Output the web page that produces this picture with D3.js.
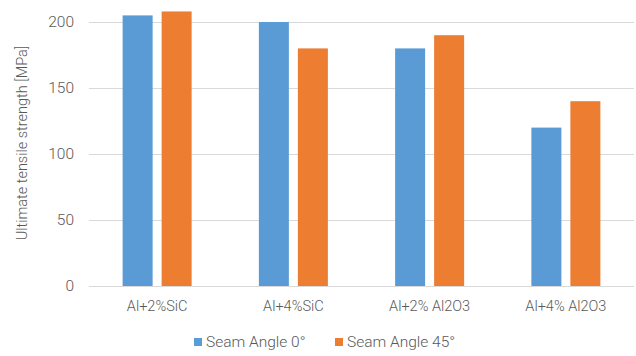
<!DOCTYPE html>
<html>
<head>
<meta charset="utf-8">
<script src="https://cdn.jsdelivr.net/npm/d3@7"></script>
<style>
  body { margin: 0; background: #fff; }
  text { font-family: Roboto, "Liberation Sans", sans-serif; font-weight: 300; fill: #595959; }
</style>
</head>
<body>
<div id="chart"></div>
<script>
// data
var categories = ["Al+2%SiC", "Al+4%SiC", "Al+2% Al2O3", "Al+4% Al2O3"];
var seriesNames = ["Seam Angle 0°", "Seam Angle 45°"];
var angle0 = [205, 200, 180, 120];
var angle45 = [208, 180, 190, 140];
var yTicks = [0, 50, 100, 150, 200];

var colors = ["#5B9BD5", "#ED7D31"];

var W = 636, H = 356;
var margin = {top: 22, right: 2, bottom: 70, left: 89};
var width = W - margin.left - margin.right,
    height = H - margin.top - margin.bottom;

var svg = d3.select("#chart").append("svg")
    .attr("width", W).attr("height", H);

var g = svg.append("g")
    .attr("transform", "translate(" + margin.left + "," + margin.top + ")");

var rows = categories.map(function(c, i) {
    return {cat: c, values: [angle0[i], angle45[i]]};
});

var x = d3.scaleBand().domain(categories).range([0, width]).padding(0);
var x1 = d3.scaleBand().domain([0, 1]).range([0, x.bandwidth()])
    .paddingInner(0.2308).paddingOuter(0.862);
var y = d3.scaleLinear().domain([0, 200]).range([height, 0]);

// gridlines
g.append("g").selectAll("line")
    .data(yTicks)
    .enter().append("line")
    .attr("x1", 0).attr("x2", width)
    .attr("y1", function(d) { return y(d) + 0.5; })
    .attr("y2", function(d) { return y(d) + 0.5; })
    .attr("stroke", "#d9d9d9").attr("stroke-width", 1);

// y axis labels
var yAxis = g.append("g")
    .call(d3.axisLeft(y).tickValues(yTicks).tickSize(0).tickPadding(15));
yAxis.select(".domain").remove();
yAxis.selectAll("text").style("font-size", "15.5px").attr("fill", "#595959");

// bars
g.append("g").selectAll("g")
    .data(rows)
    .enter().append("g")
    .attr("transform", function(d) { return "translate(" + x(d.cat) + ",0)"; })
    .selectAll("rect")
    .data(function(d) { return d.values.map(function(v, i) { return {i: i, v: v}; }); })
    .enter().append("rect")
    .attr("x", function(d) { return x1(d.i); })
    .attr("y", function(d) { return y(d.v); })
    .attr("width", x1.bandwidth())
    .attr("height", function(d) { return y(0) - y(d.v); })
    .attr("fill", function(d) { return colors[d.i]; });

// x axis labels
var xAxis = g.append("g")
    .attr("transform", "translate(0," + height + ")")
    .call(d3.axisBottom(x).tickSize(0).tickPadding(15));
xAxis.select(".domain").remove();
xAxis.selectAll("text").style("font-size", "14.5px").attr("fill", "#595959");

// y title
svg.append("text")
    .attr("transform", "translate(27,143) rotate(-90)")
    .attr("text-anchor", "middle")
    .style("font-size", "14.5px")
    .text("Ultimate tensile strength  [MPa]");

// legend
var legendX = [194, 335];
var legend = svg.append("g").selectAll("g")
    .data(seriesNames)
    .enter().append("g")
    .attr("transform", function(d, i) { return "translate(" + legendX[i] + ",338)"; });
legend.append("rect")
    .attr("width", 8).attr("height", 8)
    .attr("fill", function(d, i) { return colors[i]; });
legend.append("text")
    .attr("x", 12).attr("y", 4).attr("dy", "0.35em")
    .style("font-size", "15.5px")
    .text(function(d) { return d; });
</script>
</body>
</html>
